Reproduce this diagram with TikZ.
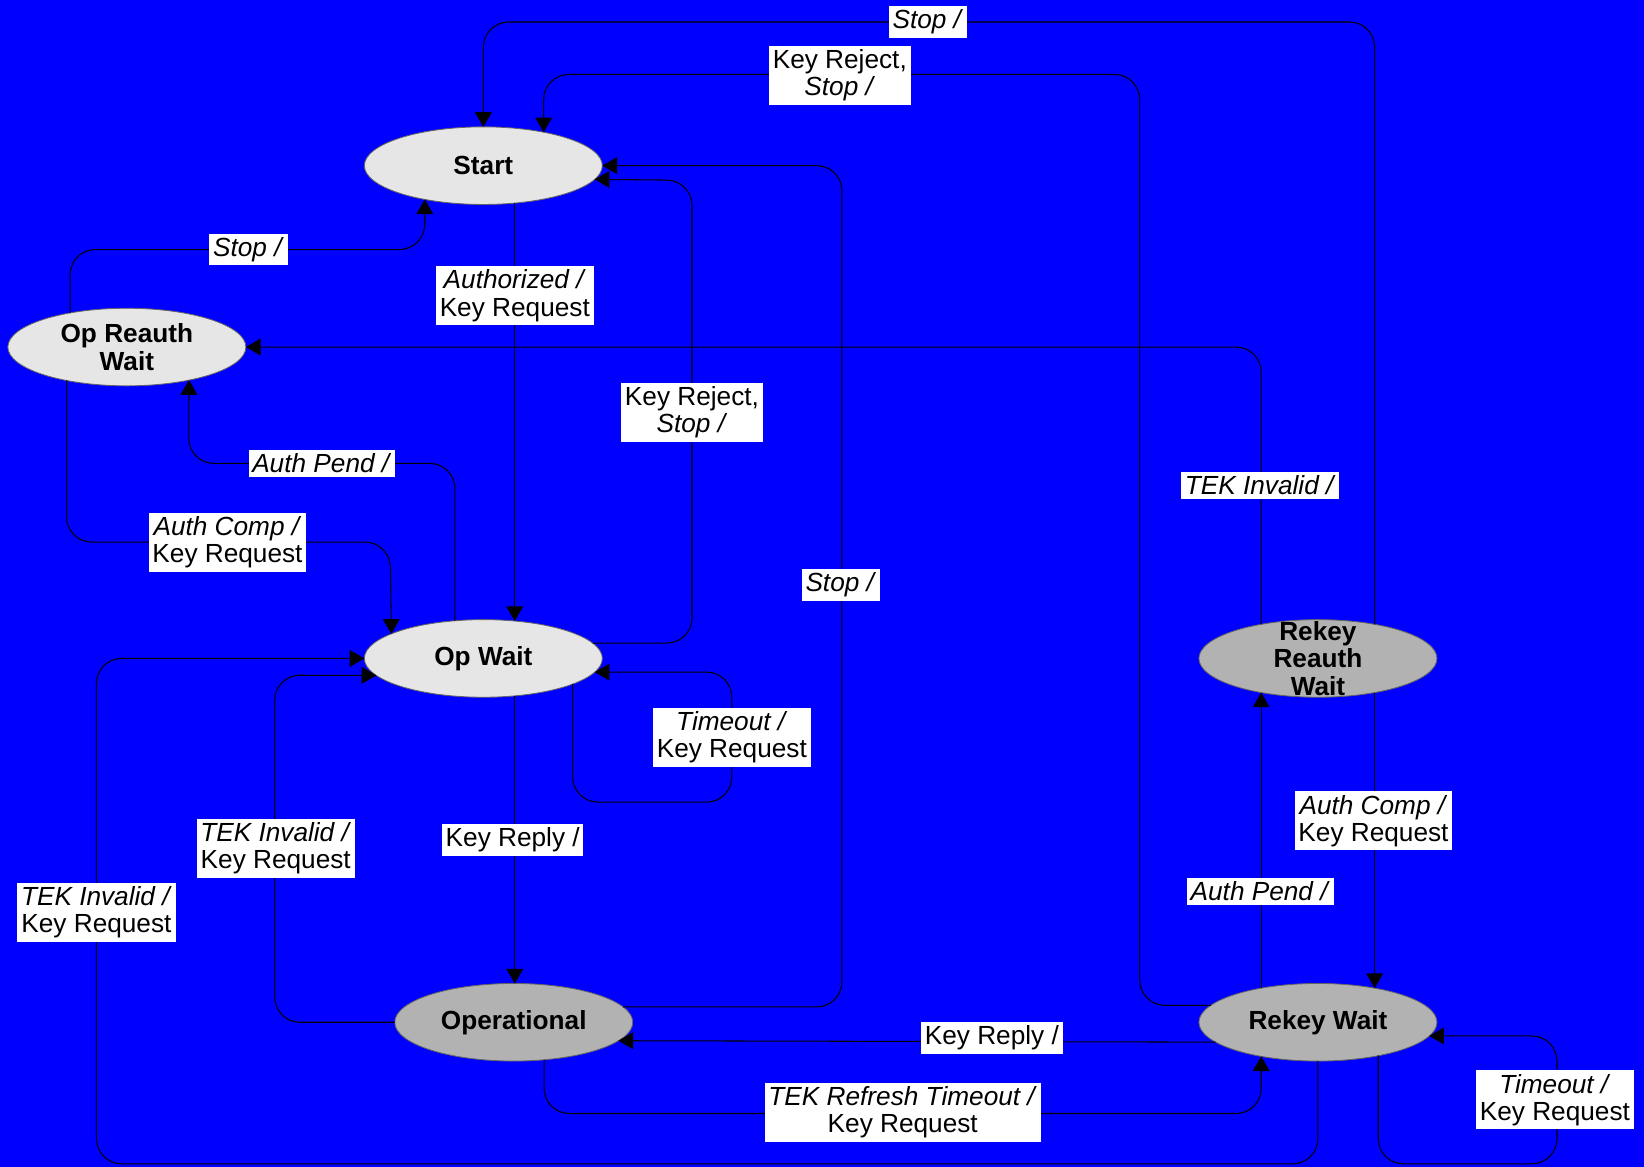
\documentclass[tikz,border=0pt]{standalone}
\usepackage{fontspec}
\setmainfont{Liberation Sans}
\usetikzlibrary{arrows.meta,shapes.geometric}
\definecolor{bgblue}{RGB}{0,0,255}
\definecolor{lightst}{RGB}{230,230,230}
\definecolor{darkst}{RGB}{178,178,178}
\definecolor{stedge}{RGB}{100,100,100}
\begin{document}
\begin{tikzpicture}[x=1pt,y=-1pt,
  state/.style={ellipse, draw=stedge, line width=0.8pt, minimum width=227pt, minimum height=74pt, inner sep=0pt, outer sep=0pt},
  lightstate/.style={state, fill=lightst},
  darkstate/.style={state, fill=darkst},
  stxt/.style={font=\fontsize{25}{26}\selectfont\bfseries, align=center, inner sep=0pt},
  conn/.style={draw=black, line width=1pt, rounded corners=24pt, -{Triangle[length=14pt,width=16pt]}},
  lbl/.style={fill=white, font=\fontsize{25}{26}\selectfont, align=center, inner xsep=3.5pt, inner ysep=3.5pt}
]
\fill[bgblue] (0,0) rectangle (1568,1113);
\useasboundingbox (0,0) rectangle (1568,1113);

% states
\node[lightstate, label={[stxt]center:Start}] (start) at (461,158) {};
\node[lightstate, label={[stxt]center:{Op Reauth\\Wait}}] (opreauth) at (121,331) {};
\node[lightstate, label={[stxt]center:Op Wait}] (opwait) at (461,628) {};
\node[darkstate, label={[stxt]center:Operational}] (oper) at (490,975) {};
\node[darkstate, label={[stxt]center:{Rekey\\Reauth\\Wait}}] (rrw) at (1257,628) {};
\node[darkstate, label={[stxt]center:Rekey Wait}] (rw) at (1257,975) {};

% connectors
\draw[conn] (start.-50) -- (opwait.50);
\draw[conn] (opreauth.149.5) |- (405,238) -- (start.-150.1);
\draw[conn] (opwait.127) |- (180,442) -- (opreauth.-28.2);
\draw[conn] (opreauth.-151.8) |- (372,517) -- (opwait.165.5);
\draw[conn] (rrw.149) |- (opreauth.0);
\draw[conn] (opwait.-16.1) |- (698,765) |- (opwait.-7);
\draw[conn] (opwait.-50) -- (opwait.-50 |- oper.north);
\draw[conn] (oper.180) -| (262,644) -- (opwait.-171.1);
\draw[conn] (rw.-90) |- (92,1110) |- (opwait.180);
\draw[conn] (rw.-169.7) -- (oper.-10.3);
\draw[conn] (oper.-51) |- (1203,1062) -- (rw.-149);
\draw[conn] (rw.-29.9) |- (1485,1110) |- (rw.-7);
\draw[conn] (rw.149) -- (rrw.-149);
\draw[conn] (rrw.-31.7) -- (rw.31.7);
\draw[conn] (rrw.31.7) |- (461,21) -- (start.90);
\draw[conn] (oper.8.2) -| (803,158) -- (start.0);
\draw[conn] (opwait.8.9) -| (660,172) -- (start.-7.6);
\draw[conn] (rw.171.8) -| (1087,71) -| (start.29.9);

% labels
\node[lbl] (l1) at (491,282) {\textit{Authorized /}\\Key Request};
\node[lbl] (l2) at (801,72) {Key Reject,\\\textit{Stop /}};
\node[lbl] (l3) at (885,21) {\textit{Stop /}};
\node[lbl] (l4) at (237,238) {\textit{Stop /}};
\node[lbl] (l5) at (660,393) {Key Reject,\\\textit{Stop /}};
\node[lbl] (l6) at (307,442) {\textit{Auth Pend /}};
\node[lbl] (l7) at (217,517) {\textit{Auth Comp /}\\Key Request};
\node[lbl] (l8) at (1202,463) {\textit{TEK Invalid /}};
\node[lbl] (l9) at (802,558) {\textit{Stop /}};
\node[lbl] (l10) at (698,703) {\textit{Timeout /}\\Key Request};
\node[lbl] (l11) at (489,801) {Key Reply /};
\node[lbl] (l12) at (263,809) {\textit{TEK Invalid /}\\Key Request};
\node[lbl] (l13) at (92,870) {\textit{TEK Invalid /}\\Key Request};
\node[lbl] (l14) at (1310,783) {\textit{Auth Comp /}\\Key Request};
\node[lbl] (l15) at (1202,850) {\textit{Auth Pend /}};
\node[lbl] (l16) at (946,990) {Key Reply /};
\node[lbl] (l17) at (861,1061) {\textit{TEK Refresh Timeout /}\\Key Request};
\node[lbl] (l18) at (1483,1049) {\textit{Timeout /}\\Key Request};
\end{tikzpicture}
\end{document}
